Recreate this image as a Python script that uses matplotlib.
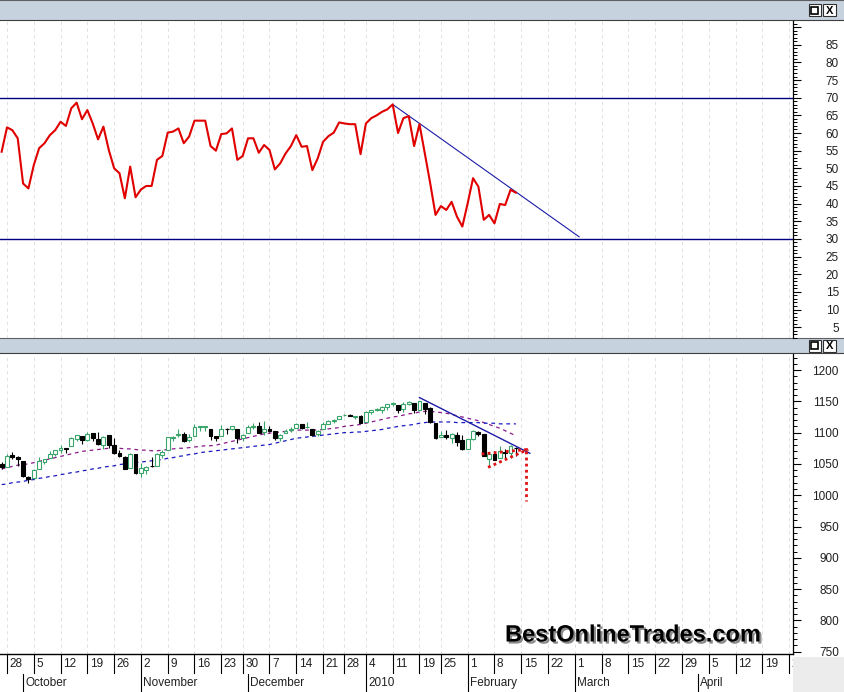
import numpy as np
import matplotlib
matplotlib.use("Agg")
import matplotlib.pyplot as plt
import matplotlib.patheffects as pe
from matplotlib.patches import Rectangle
from matplotlib.ticker import FixedLocator, MultipleLocator

plt.rcParams['font.family'] = ['Liberation Sans', 'DejaVu Sans']

# trading-day index: 0 = Mon 28 Sep 2009, -1 = Fri 25 Sep, 95 = Fri 12 Feb 2010
days = np.arange(-1, 96)

opens = [1049.5, 1045.4, 1063.7, 1061.0, 1054.9, 1029.7, 1026.9, 1042.0, 1053.7, 1060.0,
         1065.3, 1071.6, 1074.9, 1078.7, 1090.4, 1094.7, 1088.2, 1098.6, 1090.4, 1080.9,
         1095.6, 1080.4, 1067.5, 1061.5, 1043.7, 1065.4, 1036.2, 1040.9, 1047.1, 1047.3,
         1064.1, 1072.3, 1091.9, 1096.0, 1098.3, 1087.6, 1094.1, 1109.2, 1109.4, 1106.4,
         1094.7, 1094.9, 1105.8, 1106.5, 1105.5, 1091.1, 1098.9, 1109.0, 1110.6, 1100.4,
         1105.5, 1103.0, 1091.1, 1098.7, 1104.0, 1107.8, 1114.1, 1108.6, 1106.4, 1097.9,
         1105.3, 1114.5, 1118.8, 1121.1, 1127.5, 1128.6, 1125.5, 1126.6, 1116.6, 1132.7,
         1135.7, 1136.3, 1140.5, 1146.0, 1143.8, 1137.3, 1145.7, 1147.7, 1136.0, 1148.0,
         1138.7, 1115.5, 1092.4, 1095.8, 1091.9, 1096.9, 1087.6, 1073.9, 1090.1, 1100.7,
         1097.3, 1058.0, 1065.5, 1060.1, 1069.7, 1067.1, 1075.9]
highs = [1053.5, 1065.1, 1069.6, 1063.4, 1054.9, 1030.6, 1042.6, 1060.6, 1058.0, 1070.7,
         1071.5, 1079.5, 1075.3, 1093.2, 1096.6, 1094.7, 1100.2, 1098.6, 1101.4, 1095.2,
         1095.8, 1091.8, 1072.5, 1063.3, 1066.8, 1066.0, 1052.2, 1046.4, 1061.0, 1066.7,
         1071.5, 1093.2, 1095.1, 1105.4, 1101.4, 1097.6, 1113.7, 1110.7, 1111.1, 1106.4,
         1094.7, 1112.4, 1107.6, 1111.2, 1105.5, 1097.2, 1112.3, 1115.6, 1117.3, 1119.1,
         1110.7, 1103.0, 1097.0, 1106.3, 1108.5, 1114.8, 1114.1, 1116.2, 1106.4, 1103.7,
         1117.7, 1120.3, 1121.6, 1126.5, 1130.4, 1130.4, 1126.4, 1127.6, 1133.9, 1136.6,
         1139.2, 1142.5, 1145.4, 1149.7, 1143.8, 1148.4, 1150.4, 1147.8, 1150.5, 1148.0,
         1141.6, 1115.5, 1103.0, 1103.7, 1099.5, 1100.2, 1096.5, 1089.4, 1104.7, 1102.7,
         1097.3, 1067.1, 1071.2, 1079.3, 1073.7, 1080.0, 1077.8]
lows = [1041.2, 1045.4, 1057.8, 1046.5, 1029.5, 1019.9, 1025.9, 1042.0, 1050.1, 1060.0,
        1063.0, 1067.9, 1066.7, 1078.7, 1086.4, 1081.5, 1086.5, 1086.2, 1080.8, 1074.3,
        1075.5, 1065.2, 1060.6, 1042.2, 1043.7, 1033.4, 1029.4, 1033.9, 1045.2, 1047.3,
        1059.3, 1072.3, 1087.4, 1093.0, 1084.9, 1085.3, 1094.1, 1102.2, 1102.7, 1088.4,
        1086.8, 1094.9, 1097.6, 1104.8, 1083.7, 1086.3, 1098.9, 1105.3, 1098.7, 1096.5,
        1100.8, 1088.6, 1085.9, 1098.7, 1101.3, 1107.8, 1105.4, 1107.9, 1095.0, 1093.9,
        1105.3, 1114.5, 1116.0, 1121.1, 1126.0, 1126.2, 1121.9, 1114.8, 1116.6, 1129.7,
        1133.9, 1131.3, 1136.2, 1142.0, 1131.8, 1133.2, 1143.8, 1131.4, 1135.8, 1129.3,
        1114.8, 1090.2, 1092.4, 1089.9, 1083.1, 1078.5, 1071.6, 1073.9, 1088.0, 1094.0,
        1063.0, 1044.5, 1056.5, 1060.1, 1059.3, 1060.1, 1063.0]
closes = [1044.4, 1063.0, 1060.6, 1057.1, 1029.9, 1025.2, 1040.5, 1054.7, 1057.6, 1065.5,
          1071.5, 1076.2, 1073.2, 1092.0, 1096.6, 1087.7, 1097.9, 1091.1, 1081.4, 1092.9,
          1079.6, 1067.0, 1063.4, 1042.6, 1066.1, 1036.2, 1042.9, 1045.4, 1046.5, 1066.6,
          1069.3, 1093.1, 1093.0, 1098.5, 1087.2, 1093.5, 1109.3, 1110.3, 1109.8, 1094.9,
          1091.4, 1106.2, 1105.7, 1110.6, 1091.5, 1095.6, 1108.9, 1109.2, 1099.9, 1106.0,
          1103.3, 1091.9, 1095.9, 1102.4, 1106.4, 1114.1, 1107.9, 1109.2, 1096.1, 1102.5,
          1114.1, 1118.0, 1120.6, 1126.5, 1127.8, 1126.2, 1126.4, 1115.1, 1133.0, 1136.5,
          1137.1, 1141.7, 1145.0, 1147.0, 1136.2, 1145.7, 1148.5, 1136.0, 1150.2, 1138.0,
          1116.5, 1091.8, 1096.8, 1092.2, 1097.5, 1084.5, 1073.9, 1089.2, 1103.3, 1097.3,
          1063.1, 1066.2, 1056.7, 1070.5, 1068.1, 1078.5, 1075.5]

ma_fast = [1042, 1044, 1046, 1048, 1049, 1050, 1052, 1054, 1056, 1058,
           1060, 1062, 1064, 1066, 1068, 1070, 1071, 1072, 1073, 1074,
           1075, 1075, 1075, 1074, 1074, 1073, 1072, 1072, 1071, 1071,
           1072, 1073, 1074, 1075, 1075, 1076, 1077, 1078, 1079, 1079,
           1080, 1082, 1084, 1086, 1088, 1090, 1092, 1094, 1096, 1098,
           1099, 1100, 1101, 1102, 1103, 1104, 1104, 1104, 1104, 1104,
           1105, 1106, 1107, 1108, 1110, 1111, 1112, 1113, 1115, 1117,
           1119, 1121, 1123, 1125, 1126, 1128, 1130, 1131, 1133, 1134,
           1134, 1133, 1132, 1131, 1129, 1127, 1125, 1123, 1121, 1119,
           1116, 1113, 1110, 1107, 1103, 1099, 1095]
ma_slow = [1017, 1018, 1020, 1021, 1022, 1024, 1025, 1027, 1028, 1030,
           1031, 1033, 1034, 1036, 1037, 1039, 1040, 1042, 1043, 1045,
           1046, 1047, 1049, 1050, 1051, 1052, 1053, 1054, 1055, 1056,
           1057, 1059, 1060, 1062, 1063, 1065, 1066, 1068, 1069, 1070,
           1071, 1072, 1073, 1074, 1075, 1076, 1077, 1078, 1079, 1080,
           1081, 1083, 1085, 1087, 1089, 1091, 1092, 1093, 1094, 1095,
           1096, 1097, 1098, 1099, 1100, 1100, 1101, 1101, 1102, 1103,
           1104, 1105, 1107, 1108, 1110, 1111, 1112, 1113, 1115, 1116,
           1117, 1117, 1117, 1117, 1117, 1116, 1116, 1116, 1116, 1116,
           1115, 1115, 1115, 1114, 1114, 1114, 1114]

rsi = [54.7, 61.6, 60.8, 58.5, 45.7, 44.3, 50.9, 55.7, 57.1, 59.4,
       60.8, 63.2, 62.0, 67.0, 68.6, 63.9, 66.5, 62.7, 58.2, 61.8,
       55.2, 50.0, 48.6, 41.5, 50.5, 41.8, 44.0, 45.0, 45.0, 52.4,
       53.5, 60.1, 60.4, 61.3, 57.1, 59.0, 63.5, 63.5, 63.5, 56.3,
       55.0, 59.7, 59.9, 61.3, 52.4, 53.5, 58.5, 58.5, 54.4, 56.6,
       55.2, 49.7, 51.4, 54.2, 56.3, 59.4, 56.1, 56.3, 49.5, 52.8,
       57.5, 59.1, 60.1, 63.0, 62.7, 62.5, 62.5, 54.0, 62.7, 64.2,
       65.0, 66.0, 66.7, 68.1, 60.0, 64.2, 64.8, 56.3, 62.5, 54.2,
       45.8, 36.8, 39.3, 38.2, 40.5, 36.3, 33.5, 40.1, 47.2, 44.8,
       35.4, 36.8, 34.4, 39.9, 39.6, 43.9, 43.1]

# date axis (future slots are plain weekdays)
week_idx = [0, 5, 10, 15, 20, 25, 30, 35, 40, 44, 49, 54, 59, 63, 67, 72, 77, 81,
            86, 91, 96, 101, 106, 111, 116, 121, 126, 131, 136, 141, 146]
week_lbl = ['28', '5', '12', '19', '26', '2', '9', '16', '23', '30', '7', '14', '21', '28',
            '4', '11', '19', '25', '1', '8', '15', '22', '1', '8', '15', '22', '29', '5',
            '12', '19', '26']
month_idx = [3, 25, 45, 67, 86, 106, 129]
month_lbl = ['October', 'November', 'December', '2010', 'February', 'March', 'April']

# hand-drawn lines
rsi_trend_x, rsi_trend_y = [72, 106.8], [68.1, 30.6]
px_trend_x, px_trend_y = [77, 97.6], [1156, 1067]
tri_up_x, tri_up_y = [88.6, 97.3], [1065.8, 1073.3]
tri_lo_x, tri_lo_y = [89.8, 97.3], [1044.5, 1073.3]
target_x, target_y = [96.8, 96.8], [1070, 990]

W, H = 845, 692
XL = (-1.307, 146.73)


def frect(x0, y0, x1, y1):
    return [x0 / W, 1 - y1 / H, (x1 - x0) / W, (y1 - y0) / H]


fig = plt.figure(figsize=(8.45, 6.92), dpi=100)
fig.patches.append(Rectangle((793 / W, 0), 52 / W, 35 / H, transform=fig.transFigure,
                             facecolor='#ececec', edgecolor='none', zorder=-1))


def header(y0, y1):
    hx = fig.add_axes(frect(0, y0, 845, y1))
    hx.set_facecolor('#c6d2de')
    hx.set_xlim(0, 845)
    hx.set_ylim(y1 - y0, 0)
    hx.set_xticks([])
    hx.set_yticks([])
    for s in ['left', 'right']:
        hx.spines[s].set_visible(False)
    hx.spines['top'].set_color('#606060')
    hx.spines['bottom'].set_color('#404040')
    h = y1 - y0
    hx.add_patch(Rectangle((809, h / 2 - 6), 12, 12, facecolor='white', edgecolor='#303030', lw=0.8))
    hx.add_patch(Rectangle((811.5, h / 2 - 3.5), 7, 7, facecolor='none', edgecolor='black', lw=1.2))
    hx.add_patch(Rectangle((823, h / 2 - 6), 13, 12, facecolor='white', edgecolor='#303030', lw=0.8))
    hx.text(829.5, h / 2 + 0.5, 'X', ha='center', va='center', fontsize=8, fontweight='bold')


def right_axis(ax, major, labels, minor):
    ax.set_xlim(*XL)
    ax.set_xticks([])
    ax.patch.set_alpha(0)
    for s in ['top', 'left', 'bottom']:
        ax.spines[s].set_visible(False)
    ax.spines['right'].set_linewidth(0.9)
    ax.yaxis.tick_right()
    ax.yaxis.set_major_locator(FixedLocator(major))
    ax.set_yticklabels(labels)
    ax.yaxis.set_minor_locator(MultipleLocator(minor))
    ax.tick_params(axis='y', which='major', length=6, width=0.8, pad=27, labelsize=8.5,
                   labelcolor='#202020')
    ax.tick_params(axis='y', which='minor', length=3, width=0.7)
    plt.setp(ax.get_yticklabels(), ha='right')
    for w in week_idx:
        ax.axvline(w, color='#dcdcdc', lw=0.6, ls=(0, (4, 4)), zorder=0)


header(0, 20)
header(338, 353)

# RSI panel
ax1 = fig.add_axes(frect(0, 21, 793, 338))
right_axis(ax1, list(range(5, 95, 5)), [str(v) for v in range(5, 90, 5)] + [''], 1)
ax1.set_ylim(1.93, 91.73)
ax1.axhline(70, color='#000080', lw=1.0)
ax1.axhline(30, color='#000080', lw=1.0)
ax1.plot(rsi_trend_x, rsi_trend_y, color='#1c1ca8', lw=0.8)
ax1.plot(days, rsi, color='#e00000', lw=1.5, zorder=3)

# price panel
ax2 = fig.add_axes(frect(0, 354, 793, 654))
right_axis(ax2, list(range(750, 1201, 50)), [str(v) for v in range(750, 1201, 50)], 10)
ax2.set_ylim(746.3, 1225.6)
ax2.plot(days, ma_fast, color='#8a1a8a', lw=0.9, ls=(0, (3, 3)))
ax2.plot(days, ma_slow, color='#1a1ac0', lw=0.9, ls=(0, (3, 3)))

o = np.array(opens)
c = np.array(closes)
up = c >= o
green = '#3aa56a'
ax2.vlines(days[up], np.array(lows)[up], np.array(highs)[up], color=green, lw=0.8, zorder=2)
ax2.vlines(days[~up], np.array(lows)[~up], np.array(highs)[~up], color='black', lw=0.8, zorder=2)
ax2.bar(days[up], np.maximum(c - o, 0.8)[up], bottom=o[up], width=0.72,
        facecolor='white', edgecolor=green, lw=0.8, zorder=3)
ax2.bar(days[~up], (o - c)[~up], bottom=c[~up], width=0.72,
        facecolor='black', edgecolor='black', lw=0.8, zorder=3)

ax2.plot(px_trend_x, px_trend_y, color='#1c1ca8', lw=1.0, zorder=4)
ax2.plot(tri_up_x, tri_up_y, color='#e01010', lw=2, ls=(0, (1, 1.2)), zorder=5)
ax2.plot(tri_lo_x, tri_lo_y, color='#e01010', lw=2, ls=(0, (1, 1.2)), zorder=5)
ax2.plot(target_x, target_y, color='#e01010', lw=2, ls=(0, (1, 1.2)), zorder=5)

# date axis
ax3 = fig.add_axes(frect(0, 654, 793, 692))
ax3.set_xlim(*XL)
ax3.set_ylim(0, 1)
ax3.set_xticks([])
ax3.set_yticks([])
for s in ['left', 'right', 'bottom']:
    ax3.spines[s].set_visible(False)
ax3.spines['top'].set_linewidth(1.0)
for w, lbl in zip(week_idx, week_lbl):
    ax3.plot([w, w], [0.5, 1], color='black', lw=0.8)
    ax3.text(w + 0.45, 0.74, lbl, ha='left', va='center', fontsize=8.5, color='#202020',
             clip_on=True)
for m, lbl in zip(month_idx, month_lbl):
    ax3.plot([m, m], [0, 0.47], color='black', lw=0.8)
    ax3.text(m + 0.45, 0.24, lbl, ha='left', va='center', fontsize=8.5, color='#202020',
             clip_on=True)

# watermark with drop shadow
fig.text(505 / W, 1 - 635 / H, 'BestOnlineTrades.com', fontsize=17, fontweight='bold',
         color='black', va='center', ha='left',
         path_effects=[pe.withSimplePatchShadow(offset=(1.5, -1.5), shadow_rgbFace='#8a8a8a',
                                                alpha=1.0)])

fig.savefig('out.png', dpi=100)
